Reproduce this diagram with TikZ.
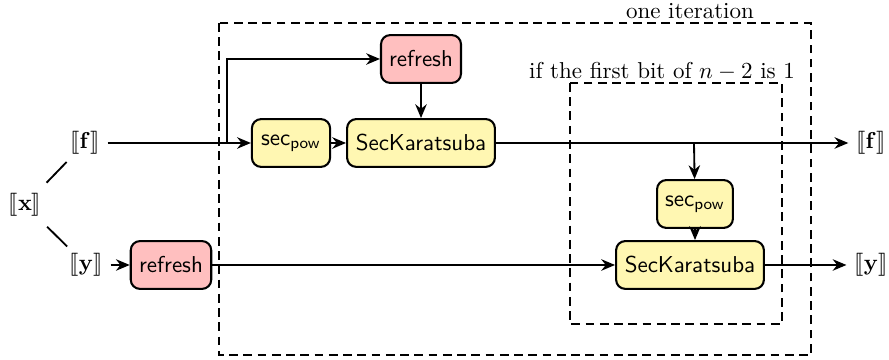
\documentclass[tikz,border=0pt]{standalone}
\usepackage{stmaryrd}
\usetikzlibrary{arrows.meta}
\definecolor{kyellow}{RGB}{255,247,178}
\definecolor{kpink}{RGB}{255,191,191}
\begin{document}
\begin{tikzpicture}[x=0.435pt,y=-0.435pt,
  box/.style={draw,line width=0.9pt,rounded corners=4pt,minimum height=20.8pt,inner sep=2pt,font=\sffamily},
  ybox/.style={box,fill=kyellow},
  pbox/.style={box,fill=kpink},
  arr/.style={-{Stealth[length=6pt,width=5pt]},line width=0.8pt},
  plain/.style={line width=0.8pt},
  frame/.style={dash pattern=on 3.8pt off 2.4pt,line width=0.7pt}]
\useasboundingbox (0,0) rectangle (889,360);
% labels
\node (x) at (25,205) {$\llbracket\mathbf{x}\rrbracket$};
\node (f) at (85,143) {$\llbracket\mathbf{f}\rrbracket$};
\node (y) at (86,265) {$\llbracket\mathbf{y}\rrbracket$};
\node (fo) at (871,143) {$\llbracket\mathbf{f}\rrbracket$};
\node (yo) at (871,265) {$\llbracket\mathbf{y}\rrbracket$};
% boxes
\node[pbox,minimum width=34.8pt] (rf1) at (421,59) {refresh};
\node[ybox,minimum width=34pt] (sp1) at (291,143) {sec$_{\mathsf{pow}}$};
\node[ybox,minimum width=64.3pt] (sk1) at (421,143) {SecKaratsuba};
\node[ybox,minimum width=33pt] (sp2) at (695,204) {sec$_{\mathsf{pow}}$};
\node[ybox,minimum width=64.3pt] (sk2) at (690,265) {SecKaratsuba};
\node[pbox,minimum width=35pt] (rf2) at (171,265) {refresh};
% dashed frames
\draw[frame] (219,23) rectangle (811,355);
\node (lab1) at (690,11) {one iteration};
\draw[frame] (570,83) rectangle (782,324);
\node (lab2) at (662,71) {if the first bit of $n-2$ is 1};
% connectors
\draw[plain,shorten <=13.5pt,shorten >=11.5pt] (x.center) -- (f.center);
\draw[plain,shorten <=13.5pt,shorten >=11.5pt] (x.center) -- (y.center);
\coordinate (br1) at (227,143);
\coordinate (br2) at (694,143);
\draw[arr] (f) -- (sp1);
\draw[arr] (br1) |- (rf1);
\draw[arr] (rf1) -- (sk1);
\draw[arr] (sp1) -- (sk1);
\draw[arr] (sk1) -- (fo);
\draw[arr] (br2) -- (sp2);
\draw[arr] (sp2) -- (sp2 |- sk2.north);
\draw[arr] (y) -- (rf2);
\draw[arr] (rf2) -- (sk2);
\draw[arr] (sk2) -- (yo);
\end{tikzpicture}
\end{document}
